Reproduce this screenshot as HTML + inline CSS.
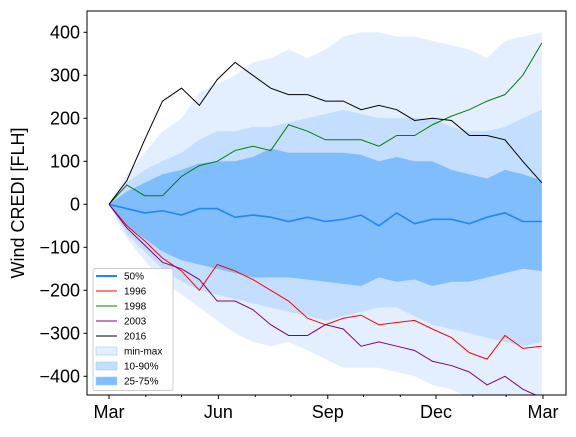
<!DOCTYPE html>
<html><head><meta charset="utf-8"><style>
body{margin:0;background:#fff}
svg{font-family:"Liberation Sans",sans-serif}
</style></head><body>
<svg id="c" width="576" height="432">
<defs><clipPath id="pa"><rect x="87" y="11" width="479" height="384"/></clipPath></defs>
<g id="plot" clip-path="url(#pa)"></g>
<rect x="87" y="11" width="479" height="384" fill="none" stroke="#000" stroke-width="1"/>
<g id="axes"></g>
<text x="24" y="203" font-size="18" text-anchor="middle" transform="rotate(-90 24 203)">Wind CREDI [FLH]</text>
<g id="legend"></g>
</svg>
<script>
const days=[0,15,30,45,61,76,91,106,121,136,151,167,182,197,212,227,242,257,272,288,303,318,333,348,364];
const minmaxTop=[0,70,120,170,200,260,280,300,330,340,360,340,360,390,400,400,390,390,380,370,360,340,380,390,400];
const minmaxBot=[0,-80,-130,-180,-210,-240,-270,-300,-320,-330,-320,-340,-360,-380,-380,-380,-390,-400,-420,-430,-450,-450,-450,-450,-450];
const p10Top=[0,50,80,100,120,150,170,170,180,180,190,200,210,220,210,200,200,200,200,180,170,170,180,200,220];
const p10Bot=[0,-70,-110,-150,-180,-200,-210,-220,-230,-240,-250,-260,-270,-260,-250,-240,-240,-260,-280,-290,-300,-310,-320,-330,-320];
const p25Top=[0,30,50,70,80,95,100,100,110,130,120,120,120,120,115,100,110,100,100,80,70,60,80,70,55];
const p25Bot=[0,-50,-80,-110,-130,-140,-150,-160,-170,-170,-170,-175,-180,-185,-190,-170,-180,-175,-190,-180,-180,-170,-160,-150,-155];
const median=[0,-10,-20,-15,-25,-10,-10,-30,-25,-30,-40,-30,-40,-35,-25,-50,-20,-45,-35,-35,-45,-30,-20,-40,-40];
const y1996=[0,-50,-85,-125,-155,-200,-140,-155,-175,-200,-225,-265,-280,-265,-258,-280,-275,-270,-290,-310,-345,-360,-305,-335,-330];
const y1998=[0,45,20,20,65,90,100,125,135,125,185,170,150,150,150,135,160,160,185,205,220,240,255,300,375];
const y2003=[0,-55,-95,-135,-150,-175,-225,-225,-245,-280,-305,-305,-280,-290,-330,-320,-330,-340,-365,-375,-390,-420,-400,-430,-450];
const y2016=[0,55,150,240,270,230,290,330,300,270,255,255,240,240,220,230,220,195,200,195,160,160,150,100,50];
const yTicks=[-400,-300,-200,-100,0,100,200,300,400];
const xTickDays=[0,92,184,275,365];
const xTickLabels=["Mar","Jun","Sep","Dec","Mar"];
const minorDays=[31,61,123,153,214,245,306,334];
const X=d=>109+d*(434/365), Y=v=>204.3-v*0.43;
const NS="http://www.w3.org/2000/svg";
const plot=document.getElementById('plot'),axes=document.getElementById('axes'),leg=document.getElementById('legend');
function mk(t,a,p){const e=document.createElementNS(NS,t);for(const k in a)e.setAttribute(k,a[k]);p.appendChild(e);return e;}
function band(top,bot,col,name){
 let pts=days.map((d,i)=>X(d)+','+Y(top[i]));
 pts=pts.concat(days.map((d,i)=>X(d)+','+Y(bot[i])).reverse());
 const e=mk('polygon',{points:pts.join(' '),fill:col},plot);
 
 
}
function line(vals,col,w,name){
 const e=mk('polyline',{points:days.map((d,i)=>X(d)+','+Y(vals[i])).join(' '),fill:'none',stroke:col,'stroke-width':w},plot);
 
 
}
band(minmaxTop,minmaxBot,'#e3efff','band-min-max');
band(p10Top,p10Bot,'#c3defe','band-10-90');
band(p25Top,p25Bot,'#80bdfd','band-25-75');
line(median,'#1e87ff',1.6,'line-median');
line(y1996,'#ff0000',1,'line-1996');
line(y1998,'#008000',1,'line-1998');
line(y2003,'#800080',1,'line-2003');
line(y2016,'#000000',1,'line-2016');
yTicks.forEach(v=>{
 mk('line',{x1:83.5,x2:87,y1:Y(v),y2:Y(v),stroke:'#000'},axes);
 const t=mk('text',{x:80,y:Y(v)+6,'font-size':18,'text-anchor':'end'},axes);t.textContent=v<0?'\u2212'+(-v):v;
 
 
});
xTickDays.forEach((d,i)=>{
 mk('line',{x1:X(d),x2:X(d),y1:395,y2:399,stroke:'#000'},axes);
 const t=mk('text',{x:X(d),y:418,'font-size':18,'text-anchor':'middle'},axes);t.textContent=xTickLabels[i];
 
 
});
minorDays.forEach(d=>mk('line',{x1:X(d),x2:X(d),y1:395,y2:397,stroke:'#000'},axes));
mk('rect',{x:93,y:268.5,width:80,height:122,rx:2,fill:'#fff','fill-opacity':0.85,stroke:'#ccc'},leg);
const li=[['50%','#1e87ff','l',2],['1996','#ff0000','l',1],['1998','#008000','l',1],['2003','#800080','l',1],['2016','#000','l',1],['min-max','#e3efff','p'],['10-90%','#c3defe','p'],['25-75%','#80bdfd','p']];
li.forEach((it,i)=>{
 const y=276+i*15;
 if(it[2]=='l')mk('line',{x1:96,x2:117,y1:y,y2:y,stroke:it[1],'stroke-width':it[3]},leg);
 else mk('rect',{x:96,y:y-4,width:21,height:8,fill:it[1],stroke:'#9fccfd','stroke-width':0.6},leg);
 const t=mk('text',{x:124,y:y+3.5,'font-size':10},leg);t.textContent=it[0];
 
 
});
</script>
</body></html>
